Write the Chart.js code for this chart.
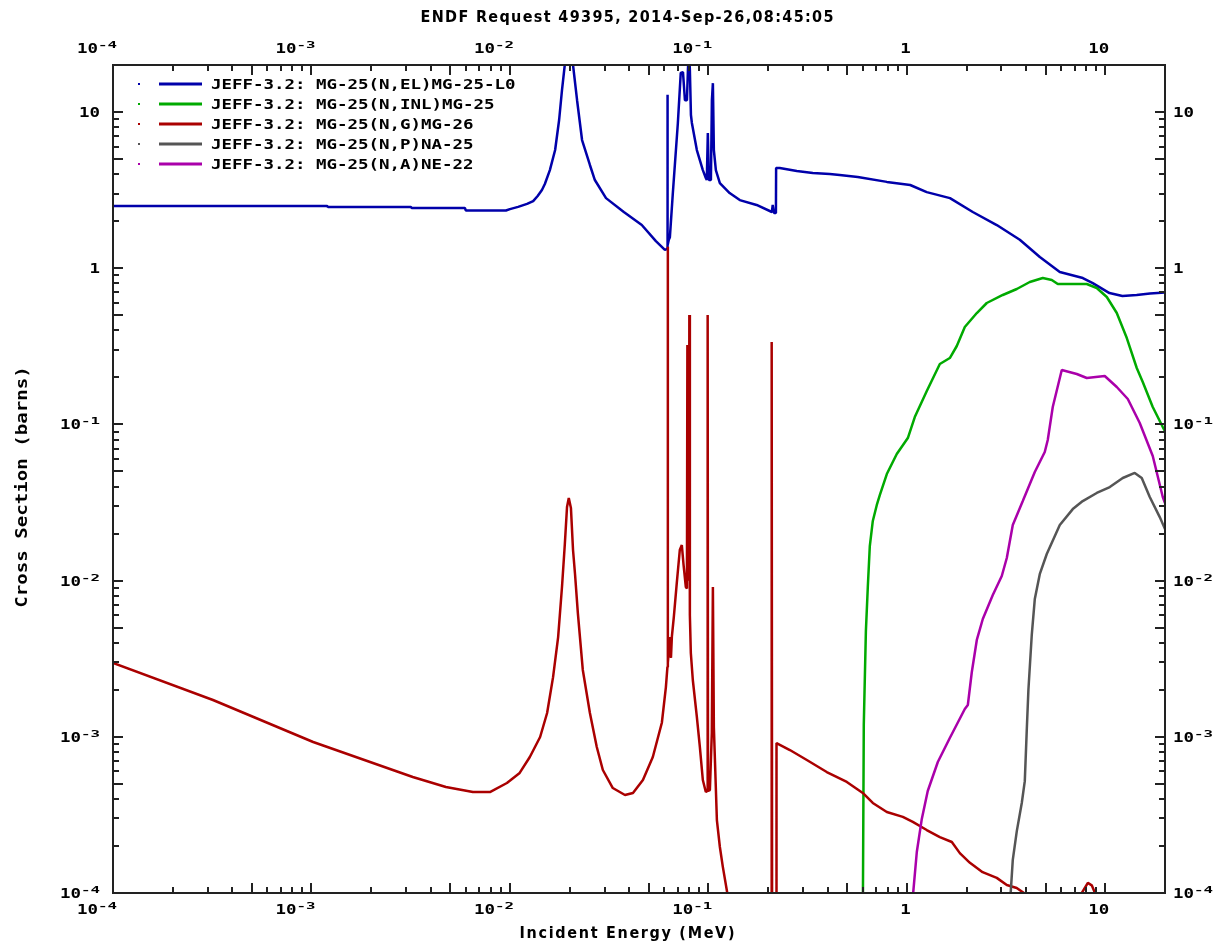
<!DOCTYPE html>
<html>
<head>
<meta charset="utf-8">
<title>ENDF Request 49395</title>
<script src="https://cdn.jsdelivr.net/npm/chart.js@4.4.1/dist/chart.umd.min.js"></script>
<style>
  body { margin: 0; background: #fff; }
  #wrap { width: 1220px; height: 941px; }
</style>
</head>
<body>
<div id="wrap"><canvas id="xsChart"></canvas></div>
<script>
// energies in MeV, cross sections in barns; null breaks the curve
const elasticE = [
  1e-4, 1.20e-3, 1.21e-3, 3.17e-3, 3.2e-3, 5.93e-3, 6.0e-3, 9.55e-3, 1.0e-2, 1.10e-2,
  1.22e-2, 1.31e-2, 1.38e-2, 1.45e-2, 1.50e-2, 1.59e-2, 1.69e-2, 1.77e-2, 1.83e-2, 1.89e-2,
  1.98e-2, 2.08e-2, 2.18e-2, 2.31e-2, 2.53e-2, 2.68e-2, 3.05e-2, 3.75e-2, 4.62e-2, 5.44e-2,
  6.04e-2, 6.20e-2, 6.22e-2, 6.24e-2, 6.32e-2, 6.40e-2, 6.62e-2, 7.02e-2, 7.26e-2, 7.45e-2,
  7.62e-2, 7.80e-2, 7.89e-2, 7.98e-2, 8.07e-2, 8.17e-2, 8.26e-2, 8.75e-2, 9.38e-2, 9.71e-2,
  9.82e-2, 9.94e-2, 0.1006, 0.1030, 0.1042, 0.1054, 0.1066, 0.1091, 0.1143, 0.128,
  0.144, 0.175, 0.209, 0.211, 0.214, 0.219, 0.2195, 0.229, 0.279, 0.336,
  0.409, 0.459, 0.566, 0.793, 1.04, 1.26, 1.65, 2.15, 2.84, 3.71,
  4.68, 5.90, 7.71, 8.65, 10.5, 12.2, 14.4, 16.8, 20
];
const elasticXS = [
  2.50, 2.50, 2.47, 2.47, 2.43, 2.43, 2.34, 2.34, 2.39, 2.47,
  2.58, 2.69, 2.90, 3.17, 3.46, 4.25, 5.71, 8.89, 13.8, 20.0,
  60, 20.0, 11.9, 6.62, 4.58, 3.67, 2.81, 2.29, 1.89, 1.49,
  1.31, 1.33, 12.9, 1.40, 1.52, 1.58, 3.0, 8.51, 17.8, 18.0,
  11.9, 11.9, 18.6, 25, 18.6, 9.57, 8.51, 5.71, 4.25, 3.78,
  3.67, 7.34, 3.67, 3.67, 11.9, 15.3, 5.71, 4.25, 3.51, 3.03,
  2.73, 2.54, 2.29, 2.54, 2.26, 2.26, 4.38, 4.38, 4.19, 4.07,
  4.01, 3.95, 3.84, 3.57, 3.41, 3.07, 2.81, 2.29, 1.89, 1.52,
  1.18, 0.946, 0.865, 0.803, 0.693, 0.664, 0.673, 0.69, 0.70
];

const inelE = [
  0.600, 0.607, 0.622, 0.636, 0.651, 0.674, 0.706, 0.731, 0.793, 0.890,
  1.012, 1.097, 1.261, 1.467, 1.647, 1.786, 1.960, 2.253, 2.529, 3.045,
  3.583, 4.165, 4.843, 5.377, 5.764, 8.07, 9.06, 10.18, 11.43, 12.84,
  14.41, 15.45, 17.35, 19.49, 20
];
const inelXS = [
  6e-5, 1.19e-3, 4.75e-3, 9.10e-3, 1.665e-2, 2.41e-2, 3.05e-2, 3.53e-2, 4.81e-2, 6.46e-2,
  8.18e-2, 0.1115, 0.1636, 0.2436, 0.266, 0.3177, 0.4204, 0.5166, 0.5988, 0.674,
  0.736, 0.816, 0.866, 0.841, 0.792, 0.792, 0.747, 0.654, 0.5166, 0.357,
  0.2297, 0.1868, 0.1293, 0.0962, 0.0907
];

const captureE = [
  1e-4, 3.19e-4, 1.02e-3, 3.24e-3, 4.76e-3, 6.51e-3, 7.93e-3, 9.66e-3, 1.12e-2, 1.26e-2,
  1.42e-2, 1.54e-2, 1.65e-2, 1.75e-2, 1.83e-2, 1.89e-2, 1.94e-2, 1.98e-2, 2.03e-2, 2.08e-2,
  2.13e-2, 2.20e-2, 2.33e-2, 2.53e-2, 2.74e-2, 2.94e-2, 3.30e-2, 3.80e-2, 4.17e-2, 4.68e-2,
  5.25e-2, 5.83e-2, 6.11e-2, 6.22e-2, 6.24e-2, 6.26e-2, 6.40e-2, 6.48e-2, 6.55e-2, 6.70e-2,
  6.93e-2, 7.18e-2, 7.35e-2, 7.50e-2, 7.70e-2, 7.80e-2, 7.84e-2, 7.88e-2, 7.98e-2, 8.02e-2,
  8.07e-2, 8.16e-2, 8.35e-2, 8.75e-2, 9.06e-2, 9.38e-2, 9.71e-2, 9.88e-2, 9.92e-2, 9.96e-2,
  0.1018, 0.1041, 0.1054, 0.1066, 0.1104, 0.1143, 0.1183, 0.1254, 0.128, 0.15,
  0.2075, 0.2085, 0.2095, 0.2195, 0.2205, 0.2575, 0.3135, 0.395, 0.4985, 0.600,
  0.674, 0.793, 0.955, 1.072, 1.26, 1.467, 1.686, 1.85, 2.08, 2.41,
  2.84, 3.19, 3.58, 4.03, 4.2, 5.0, 7.2, 7.43, 8.17, 8.55,
  9.06, 9.3
];
const captureXS = [
  2.97e-3, 1.72e-3, 9.26e-4, 5.53e-4, 4.77e-4, 4.43e-4, 4.43e-4, 5.06e-4, 5.87e-4, 7.42e-4,
  9.97e-4, 1.42e-3, 2.41e-3, 4.35e-3, 9.10e-3, 1.69e-2, 2.96e-2, 3.38e-2, 2.92e-2, 1.57e-2,
  1.09e-2, 6.20e-3, 2.68e-3, 1.42e-3, 8.61e-4, 6.13e-4, 4.70e-4, 4.24e-4, 4.37e-4, 5.29e-4,
  7.42e-4, 1.23e-3, 2.08e-3, 2.80e-3, 1.37, 2.97e-3, 4.35e-3, 3.2e-3, 4.4e-3, 5.85e-3,
  9.6e-3, 1.57e-2, 1.69e-2, 1.26e-2, 9.10e-3, 8.9e-3, 0.322, 1.0e-2, 1.1e-2, 0.502,
  6.0e-3, 3.44e-3, 2.31e-3, 1.34e-3, 8.61e-4, 5.29e-4, 4.43e-4, 4.5e-4, 0.502, 4.5e-4,
  4.56e-4, 1.06e-3, 9.10e-3, 1.15e-3, 2.93e-4, 1.97e-4, 1.47e-4, 9.5e-5, 6e-5, null,
  6e-5, 0.337, 6e-5, 6e-5, 9.12e-4, 8.23e-4, 7.10e-4, 5.95e-4, 5.14e-4, 4.37e-4,
  3.77e-4, 3.30e-4, 3.07e-4, 2.85e-4, 2.53e-4, 2.28e-4, 2.12e-4, 1.80e-4, 1.56e-4, 1.36e-4,
  1.25e-4, 1.125e-4, 1.076e-4, 9.7e-5, 6e-5, null, 6e-5, 9.5e-5, 1.16e-4, 1.12e-4,
  9.4e-5, 6e-5
];

const protonE = [
  3.30, 3.42, 3.583, 3.796, 3.931, 4.024, 4.10, 4.263, 4.415, 4.677,
  5.073, 5.900, 6.86, 7.70, 9.06, 10.54, 12.25, 14.08, 15.27, 16.76,
  18.82, 20
];
const protonXS = [
  8e-5, 1.63e-4, 2.49e-4, 3.77e-4, 5.2e-4, 1.12e-3, 2.0e-3, 4.5e-3, 7.62e-3, 1.10e-2,
  1.48e-2, 2.27e-2, 2.87e-2, 3.23e-2, 3.64e-2, 3.97e-2, 4.54e-2, 4.89e-2, 4.54e-2, 3.43e-2,
  2.55e-2, 2.14e-2
];

const alphaE = [
  1.06, 1.123, 1.190, 1.275, 1.433, 1.647, 1.960, 2.030, 2.126, 2.253,
  2.415, 2.712, 3.010, 3.190, 3.420, 3.841, 4.415, 4.956, 5.131, 5.438,
  6.037, 7.186, 8.07, 9.94, 11.43, 12.99, 14.92, 17.35, 19.49, 20
];
const alphaXS = [
  8e-5, 1.83e-4, 2.98e-4, 4.50e-4, 6.90e-4, 9.82e-4, 1.507e-3, 1.598e-3, 2.60e-3, 4.17e-3,
  5.68e-3, 8.09e-3, 1.07e-2, 1.395e-2, 2.27e-2, 3.23e-2, 4.96e-2, 6.66e-2, 7.95e-2, 0.1293,
  0.2230, 0.2102, 0.1982, 0.2041, 0.1736, 0.1454, 0.1021, 6.28e-2, 3.43e-2, 3.14e-2
];

const seriesLabels = [
  "JEFF-3.2: MG-25(N,EL)MG-25-L0",
  "JEFF-3.2: MG-25(N,INL)MG-25",
  "JEFF-3.2: MG-25(N,G)MG-26",
  "JEFF-3.2: MG-25(N,P)NA-25",
  "JEFF-3.2: MG-25(N,A)NE-22"
];
const seriesColors = ["#0000aa", "#00aa00", "#aa0000", "#555555", "#aa00aa"];

const decades = [1e-4, 1e-3, 1e-2, 1e-1, 1, 10];
const decadeBase = ["10", "10", "10", "10", "1", "10"];
const decadeExp = ["-4", "-3", "-2", "-1", "", ""];

const E_MIN = 1e-4, E_MAX = 20;
const XS_MIN = 1e-4, XS_MAX = 20;

function toPoints(es, xs) {
    return es.map((e, i) => ({ x: e, y: xs[i] }));
}

const curves = [
    toPoints(elasticE, elasticXS),
    toPoints(inelE, inelXS),
    toPoints(captureE, captureXS),
    toPoints(protonE, protonXS),
    toPoints(alphaE, alphaXS)
];

// wide bold mono text, stretched to a fixed advance per character
function monoText(ctx, str, x, y, size, advance, align) {
    ctx.font = "bold " + size + "px 'DejaVu Sans Mono'";
    const w0 = ctx.measureText(str).width;
    const w = advance * str.length;
    let left = x;
    if (align === "right") left = x - w;
    else if (align === "center") left = x - w / 2;
    ctx.save();
    ctx.translate(left, y);
    ctx.scale(w / w0, 1);
    ctx.textAlign = "left";
    ctx.textBaseline = "alphabetic";
    ctx.fillText(str, 0, 0);
    ctx.restore();
    return w;
}

// narrow title font, spread out to a given width
function spacedText(ctx, str, cx, y, font, width) {
    ctx.font = font;
    ctx.textAlign = "left";
    ctx.textBaseline = "alphabetic";
    const w = ctx.measureText(str).width;
    if ("letterSpacing" in ctx) {
        ctx.letterSpacing = ((width - w) / (str.length - 1)) + "px";
        ctx.fillText(str, cx - width / 2, y);
        ctx.letterSpacing = "0px";
    } else {
        ctx.save();
        ctx.translate(cx - width / 2, y);
        ctx.scale(width / w, 1);
        ctx.fillText(str, 0, 0);
        ctx.restore();
    }
}

function tickWidth(i) {
    return decadeBase[i].length * 10.5 + decadeExp[i].length * 9.5;
}

// "10" with a raised exponent, left edge at x
function powerLabel(ctx, i, x, y) {
    const bw = monoText(ctx, decadeBase[i], x, y, 14, 10.5, "left");
    if (decadeExp[i]) monoText(ctx, decadeExp[i], x + bw, y - 5, 9, 9.5, "left");
}

const framePlugin = {
    id: "endfFrame",
    afterDatasetsDraw(chart) {
        const ctx = chart.ctx;
        const a = chart.chartArea;
        const xs = chart.scales.x;
        const ys = chart.scales.y;
        ctx.save();

        // inward tick marks on all four sides
        ctx.strokeStyle = "#222";
        ctx.lineWidth = 2;
        ctx.beginPath();
        for (let d = -4; d <= 1; d++) {
            for (let m = 1; m <= 9; m++) {
                const v = m * Math.pow(10, d);
                if (v > E_MAX * 1.0001) break;
                const len = (m === 1 || m === 5) ? 10 : 6;
                const px = Math.round(xs.getPixelForValue(v));
                ctx.moveTo(px, a.bottom); ctx.lineTo(px, a.bottom - len);
                ctx.moveTo(px, a.top); ctx.lineTo(px, a.top + len);
                const py = Math.round(ys.getPixelForValue(v));
                ctx.moveTo(a.left, py); ctx.lineTo(a.left + len, py);
                ctx.moveTo(a.right, py); ctx.lineTo(a.right - len, py);
            }
        }
        ctx.stroke();

        ctx.lineWidth = 2;
        ctx.strokeRect(a.left, a.top, a.right - a.left, a.bottom - a.top);

        // decade labels
        ctx.fillStyle = "#000";
        decades.forEach((v, i) => {
            const w = tickWidth(i);
            const px = xs.getPixelForValue(v);
            powerLabel(ctx, i, px + 4 - w, a.top - 12);
            powerLabel(ctx, i, px + 4 - w, a.bottom + 21);
            const py = ys.getPixelForValue(v);
            powerLabel(ctx, i, a.left - 13 - w, py + 5);
            powerLabel(ctx, i, a.right + 8, py + 5);
        });

        // titles
        spacedText(ctx, "ENDF Request 49395, 2014-Sep-26,08:45:05", 627, 22,
            "bold 16px 'DejaVu Sans Condensed'", 413);
        spacedText(ctx, "Incident Energy (MeV)", 627, 938,
            "bold 16px 'DejaVu Sans Condensed'", 215);
        ctx.save();
        ctx.translate(21, 487);
        ctx.rotate(-Math.PI / 2);
        monoText(ctx, "Cross Section (barns)", 0, 6, 16, 11.5, "center");
        ctx.restore();

        // legend inside the plot
        seriesLabels.forEach((label, i) => {
            const cy = a.top + 19 + i * 20;
            ctx.fillStyle = seriesColors[i];
            ctx.fillRect(138, cy - 1, 2, 2);
            ctx.strokeStyle = seriesColors[i];
            ctx.lineWidth = 3;
            ctx.beginPath();
            ctx.moveTo(159, cy);
            ctx.lineTo(202, cy);
            ctx.stroke();
            ctx.fillStyle = "#000";
            monoText(ctx, label, 211, cy + 5, 14, 10.5, "left");
        });

        ctx.restore();
    }
};

function logAxis(position, size) {
    const horizontal = position === "top" || position === "bottom";
    return {
        type: "logarithmic",
        position: position,
        min: horizontal ? E_MIN : XS_MIN,
        max: horizontal ? E_MAX : XS_MAX,
        grid: { display: false },
        border: { display: false },
        ticks: { display: false },
        afterFit: function (scale) {
            if (horizontal) scale.height = size;
            else scale.width = size;
        }
    };
}

const ctx = document.getElementById("xsChart");
const xsChart = new Chart(ctx, {
    type: "scatter",
    data: {
        datasets: curves.map((pts, i) => ({
            label: seriesLabels[i],
            data: pts,
            showLine: true,
            spanGaps: false,
            borderColor: seriesColors[i],
            backgroundColor: seriesColors[i],
            borderWidth: 2.5,
            borderJoinStyle: "bevel",
            pointRadius: 0,
            tension: 0,
            clip: 0,
            order: seriesLabels.length - i
        }))
    },
    options: {
        responsive: true,
        maintainAspectRatio: false,
        animation: false,
        devicePixelRatio: 1,
        layout: { padding: 0 },
        plugins: {
            legend: { display: false },
            tooltip: { enabled: false }
        },
        scales: {
            x: logAxis("bottom", 48),
            x2: logAxis("top", 65),
            y: logAxis("left", 113),
            y2: logAxis("right", 55)
        }
    },
    plugins: [framePlugin]
});
</script>
</body>
</html>
